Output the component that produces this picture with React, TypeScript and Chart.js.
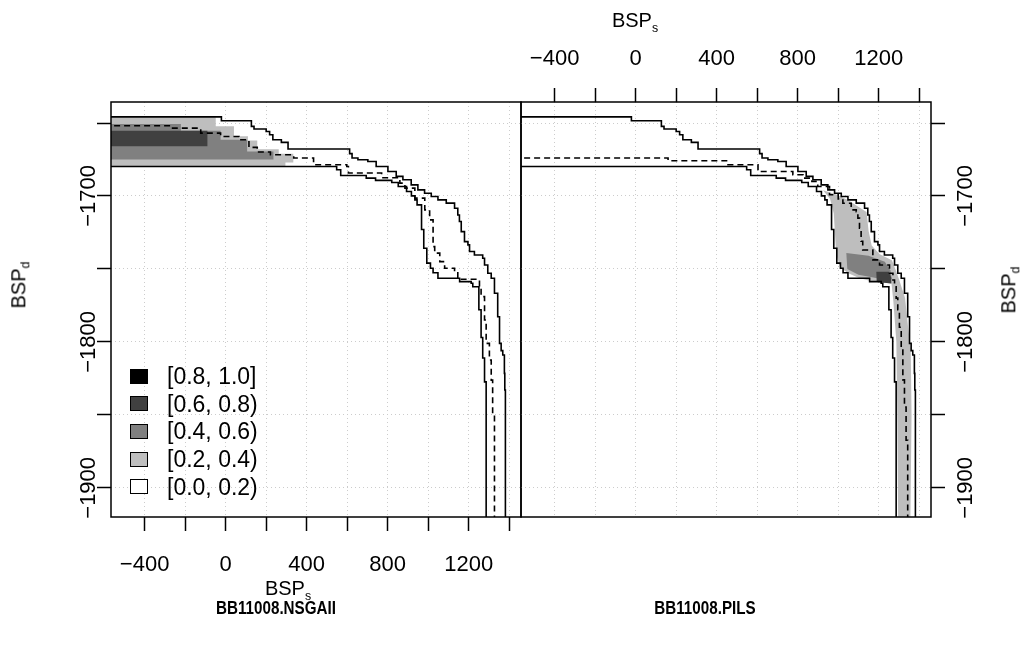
import React, { useEffect, useRef } from 'react';
import { Chart, registerables } from 'chart.js';

Chart.register(...registerables);

// ---------- axis settings ----------
const X_MIN = -566;
const X_MAX = 1458;
const Y_MIN = -1920;
const Y_MAX = -1635.6;
const X_TICKS = [-400, -200, 0, 200, 400, 600, 800, 1000, 1200, 1400];
const Y_TICKS = [-1900, -1850, -1800, -1750, -1700, -1650];
const X_LABELS = [-400, 0, 400, 800, 1200];
const Y_LABELS = [-1700, -1800, -1900];

// ---------- attainment surfaces (BSP_s, BSP_d) ----------
const BEST_FRONT: [number, number][] = [
  [-600, -1645.8], [-21, -1648.5], [127, -1652.3], [140, -1654.1], [200, -1655.8],
  [217, -1658.0], [233, -1661.5], [275, -1663.3], [308, -1667.8], [612, -1671.0],
  [624, -1674.0], [653, -1675.2], [702, -1676.4], [743, -1679.8], [801, -1683.2],
  [842, -1686.6], [875, -1688.9], [916, -1692.4], [949, -1695.8], [982, -1698.1],
  [1015, -1700.4], [1048, -1702.7], [1089, -1704.9], [1130, -1708.4], [1146, -1713.0],
  [1154, -1717.5], [1163, -1724.4], [1179, -1731.3], [1196, -1733.5], [1204, -1738.1],
  [1228, -1740.4], [1269, -1742.7], [1278, -1747.3], [1294, -1753.0], [1311, -1756.4],
  [1327, -1766.7], [1343, -1782.8], [1352, -1801.0], [1360, -1806.0], [1368, -1809.0],
  [1376, -1821.6], [1378, -1833.0], [1381, -1930],
];

const WORST_FRONT: [number, number][] = [
  [-600, -1679.8], [548, -1682.0], [568, -1686.0], [694, -1687.8], [740, -1689.3],
  [820, -1690.8], [852, -1693.5], [893, -1696.9], [917, -1699.9], [934, -1702.7],
  [945, -1706.1], [967, -1723.0], [978, -1735.8], [993, -1746.0], [1011, -1749.5],
  [1024, -1752.6], [1048, -1756.4], [1155, -1758.7], [1212, -1759.8], [1220, -1762.2],
  [1250, -1778.0], [1261, -1797.0], [1269, -1811.0], [1278, -1827.4], [1286, -1930],
];

const MEDIAN_NSGAII: [number, number][] = [
  [-600, -1651.9], [-262, -1653.5], [-123, -1656.9], [-25, -1659.2], [66, -1661.5],
  [115, -1666.7], [156, -1669.9], [221, -1671.8], [336, -1674.0], [434, -1678.6],
  [598, -1679.8], [606, -1684.3], [770, -1687.5], [860, -1691.2], [885, -1694.6],
  [934, -1701.5], [983, -1709.5], [1007, -1716.4], [1024, -1734.7], [1032, -1739.2],
  [1057, -1745.0], [1081, -1749.5], [1130, -1751.9], [1146, -1757.1], [1253, -1762.2],
  [1261, -1769.0], [1278, -1785.0], [1286, -1801.0], [1302, -1812.4], [1311, -1826.2],
  [1318, -1849.0], [1327, -1930],
];

const MEDIAN_PILS: [number, number][] = [
  [-600, -1674.0], [160, -1675.9], [456, -1678.6], [604, -1683.2], [776, -1685.5],
  [826, -1687.8], [870, -1690.0], [899, -1693.5], [957, -1699.2], [1000, -1702.0],
  [1023, -1705.0], [1064, -1709.5], [1089, -1710.7], [1097, -1715.2], [1105, -1722.0],
  [1113, -1731.0], [1121, -1737.0], [1171, -1743.8], [1204, -1747.3], [1253, -1753.0],
  [1270, -1757.6], [1278, -1762.2], [1286, -1770.0], [1294, -1778.0], [1302, -1790.0],
  [1311, -1805.6], [1319, -1826.0], [1327, -1844.6], [1335, -1867.4], [1343, -1930],
];

// ---------- attainment regions (polygon corners, BSP_s / BSP_d) ----------
const NSGAII_LIGHT: [number, number][] = [
  [-600, -1646.1], [-49, -1646.1], [-49, -1652.3], [41, -1652.3], [41, -1659.0],
  [110, -1659.0], [110, -1662.0], [156, -1662.0], [156, -1668.0], [262, -1668.0],
  [262, -1671.0], [334, -1671.0], [334, -1677.0], [295, -1677.0], [295, -1679.4],
  [-600, -1679.4],
];
const NSGAII_MEDIUM: [number, number][] = [
  [-600, -1650.7], [-221, -1650.7], [-221, -1655.3], [-25, -1655.3], [-25, -1661.5],
  [106, -1661.5], [106, -1669.5], [236, -1669.5], [236, -1675.0], [-600, -1675.0],
];
const NSGAII_DARK: [number, number][] = [
  [-600, -1655.3], [-90, -1655.3], [-90, -1666.0], [-600, -1666.0],
];

const PILS_LIGHT: [number, number][] = [
  [925, -1696], [990, -1699], [1050, -1703], [1095, -1707], [1140, -1711],
  [1150, -1724], [1165, -1734], [1205, -1740], [1265, -1744], [1282, -1750],
  [1300, -1757], [1330, -1770], [1345, -1790], [1358, -1805], [1362, -1850],
  [1356, -1925], [1296, -1925], [1292, -1855], [1287, -1800], [1272, -1772],
  [1263, -1760], [1200, -1759], [1150, -1758], [1100, -1756], [1050, -1753],
  [1010, -1749], [990, -1740], [978, -1712], [960, -1702],
];
const PILS_MEDIUM: [number, number][] = [
  [1040, -1739], [1150, -1741], [1230, -1745], [1258, -1751], [1264, -1757],
  [1200, -1756.5], [1100, -1754], [1045, -1750],
];
const PILS_DARK: [number, number][] = [
  [1188, -1752], [1250, -1752], [1262, -1756], [1262, -1760], [1190, -1759],
];

// ---------- legend / titles ----------
const LEVEL_LABELS = ['[0.8, 1.0]', '[0.6, 0.8)', '[0.4, 0.6)', '[0.2, 0.4)', '[0.0, 0.2)'];
const LEVEL_COLORS = ['#000000', '#404040', '#808080', '#bebebe', '#ffffff'];
const PANEL_TITLES = ['BB11008.NSGAII', 'BB11008.PILS'];

const FONT = '"Liberation Sans", Arial, Helvetica, sans-serif';
const fmt = (v: number) => (v < 0 ? '\u2212' + Math.abs(v) : String(v));
const pts = (a: [number, number][]) => a.map(([x, y]) => ({ x, y }));

const lineDs = (data: [number, number][], dash: number[]) => ({
  data: pts(data),
  showLine: true,
  stepped: 'before' as const,
  borderColor: '#000',
  borderWidth: 1.6,
  borderDash: dash,
  pointRadius: 0,
  fill: false,
});
const areaDs = (data: [number, number][], color: string) => ({
  data: pts(data),
  showLine: true,
  borderColor: 'rgba(0,0,0,0)',
  borderWidth: 0,
  backgroundColor: color,
  fill: 'shape',
  pointRadius: 0,
});

const framePlugin = {
  id: 'frame',
  afterDraw(chart: any, _args: any, opts: any) {
    const { ctx, chartArea: a } = chart;
    ctx.save();
    ctx.strokeStyle = '#000';
    ctx.lineWidth = 1.5;
    ctx.strokeRect(a.left, a.top, a.right - a.left, a.bottom - a.top);
    const ys = chart.scales.y;
    ctx.fillStyle = '#000';
    ctx.font = '22px ' + FONT;
    ctx.textAlign = 'center';
    ctx.textBaseline = 'middle';
    for (const t of ys.ticks) {
      if (!Y_LABELS.includes(t.value)) continue;
      const py = ys.getPixelForValue(t.value);
      ctx.save();
      ctx.translate(opts.labelX, py);
      ctx.rotate(-Math.PI / 2);
      ctx.fillText(fmt(t.value), 0, 0);
      ctx.restore();
    }
    ctx.restore();
  },
};

function buildConfig(side: 'left' | 'right', median: [number, number][], regions: [number, number][][]) {
  const isLeft = side === 'left';
  const gridCommon = {
    color: '#cccccc',
    lineWidth: 1,
    tickColor: '#000',
    tickWidth: 1.5,
    tickLength: 14,
    tickBorderDash: [],
  };
  return {
    type: 'scatter' as const,
    data: {
      datasets: [
        lineDs(BEST_FRONT, []),
        lineDs(WORST_FRONT, []),
        lineDs(median, [6, 4]),
        areaDs(regions[0], LEVEL_COLORS[1]),
        areaDs(regions[1], LEVEL_COLORS[2]),
        areaDs(regions[2], LEVEL_COLORS[3]),
      ],
    },
    options: {
      responsive: false,
      animation: false,
      devicePixelRatio: 1,
      layout: {
        padding: isLeft
          ? { left: 0, top: 102, right: 1029 - 521, bottom: 0 }
          : { left: 521, top: 0, right: 0, bottom: 652 - 517 },
      },
      plugins: {
        legend: { display: false },
        tooltip: { enabled: false },
        frame: { labelX: isLeft ? 89 : 966 },
      },
      scales: {
        x: {
          type: 'linear',
          position: isLeft ? 'bottom' : 'top',
          min: X_MIN,
          max: X_MAX,
          afterBuildTicks: (s: any) => { s.ticks = X_TICKS.map((v) => ({ value: v })); },
          afterFit: (s: any) => { s.height = isLeft ? 652 - 517 : 102; },
          grid: gridCommon,
          border: { display: false, dash: [1, 3] },
          ticks: {
            autoSkip: false,
            maxRotation: 0,
            minRotation: 0,
            padding: isLeft ? 21 : 16,
            color: '#000',
            font: { family: FONT, size: 22 },
            callback: (v: any) => (X_LABELS.includes(Number(v)) ? fmt(Number(v)) : ''),
          },
        },
        y: {
          type: 'linear',
          position: isLeft ? 'left' : 'right',
          min: Y_MIN,
          max: Y_MAX,
          afterBuildTicks: (s: any) => { s.ticks = Y_TICKS.map((v) => ({ value: v })); },
          afterFit: (s: any) => { s.width = isLeft ? 111 : 1029 - 931; },
          grid: gridCommon,
          border: { display: false, dash: [1, 3] },
          ticks: { display: false },
        },
      },
    },
    plugins: [framePlugin],
  };
}

const abs = (extra: React.CSSProperties): React.CSSProperties => ({ position: 'absolute', whiteSpace: 'nowrap', ...extra });

export default function App() {
  const leftRef = useRef<HTMLCanvasElement>(null);
  const rightRef = useRef<HTMLCanvasElement>(null);

  useEffect(() => {
    const c1 = new Chart(leftRef.current as HTMLCanvasElement, buildConfig('left', MEDIAN_NSGAII, [NSGAII_DARK, NSGAII_MEDIUM, NSGAII_LIGHT]) as any);
    const c2 = new Chart(rightRef.current as HTMLCanvasElement, buildConfig('right', MEDIAN_PILS, [PILS_DARK, PILS_MEDIUM, PILS_LIGHT]) as any);
    return () => { c1.destroy(); c2.destroy(); };
  }, []);

  const bsp = (sub: string) => (
    <span>BSP<sub style={{ fontSize: '0.62em', verticalAlign: '-0.35em' }}>{sub}</sub></span>
  );

  return (
    <div style={{ position: 'absolute', left: 0, top: 0, width: 1029, height: 652, background: '#fff', overflow: 'hidden', fontFamily: FONT, color: '#000' }}>
      <canvas ref={leftRef} width={1029} height={652} style={{ position: 'absolute', left: 0, top: 0, width: 1029, height: 652 }} />
      <canvas ref={rightRef} width={1029} height={652} style={{ position: 'absolute', left: 0, top: 0, width: 1029, height: 652 }} />

      <div style={abs({ left: 635, top: 22, fontSize: 20, transform: 'translate(-50%, -50%)' })}>{bsp('s')}</div>
      <div style={abs({ left: 288, top: 590, fontSize: 20, transform: 'translate(-50%, -50%)' })}>{bsp('s')}</div>
      <div style={abs({ left: 20, top: 285, fontSize: 20, transform: 'translate(-50%, -50%) rotate(-90deg)' })}>{bsp('d')}</div>
      <div style={abs({ left: 1010, top: 290, fontSize: 20, transform: 'translate(-50%, -50%) rotate(-90deg)' })}>{bsp('d')}</div>

      <div style={abs({ left: 276, top: 608, fontSize: 19, fontWeight: 'bold', transform: 'translate(-50%, -50%) scaleX(0.8)' })}>{PANEL_TITLES[0]}</div>
      <div style={abs({ left: 705, top: 608, fontSize: 19, fontWeight: 'bold', transform: 'translate(-50%, -50%) scaleX(0.8)' })}>{PANEL_TITLES[1]}</div>

      {LEVEL_LABELS.map((lab, i) => {
        const cy = 376 + i * 27.7;
        return (
          <React.Fragment key={lab}>
            <div style={abs({ left: 130, top: cy - 7.5, width: 16, height: 13, background: LEVEL_COLORS[i], border: '1px solid #000' })} />
            <div style={abs({ left: 167, top: cy, fontSize: 23, lineHeight: '26px', transform: 'translateY(-50%)' })}>{lab}</div>
          </React.Fragment>
        );
      })}
    </div>
  );
}
